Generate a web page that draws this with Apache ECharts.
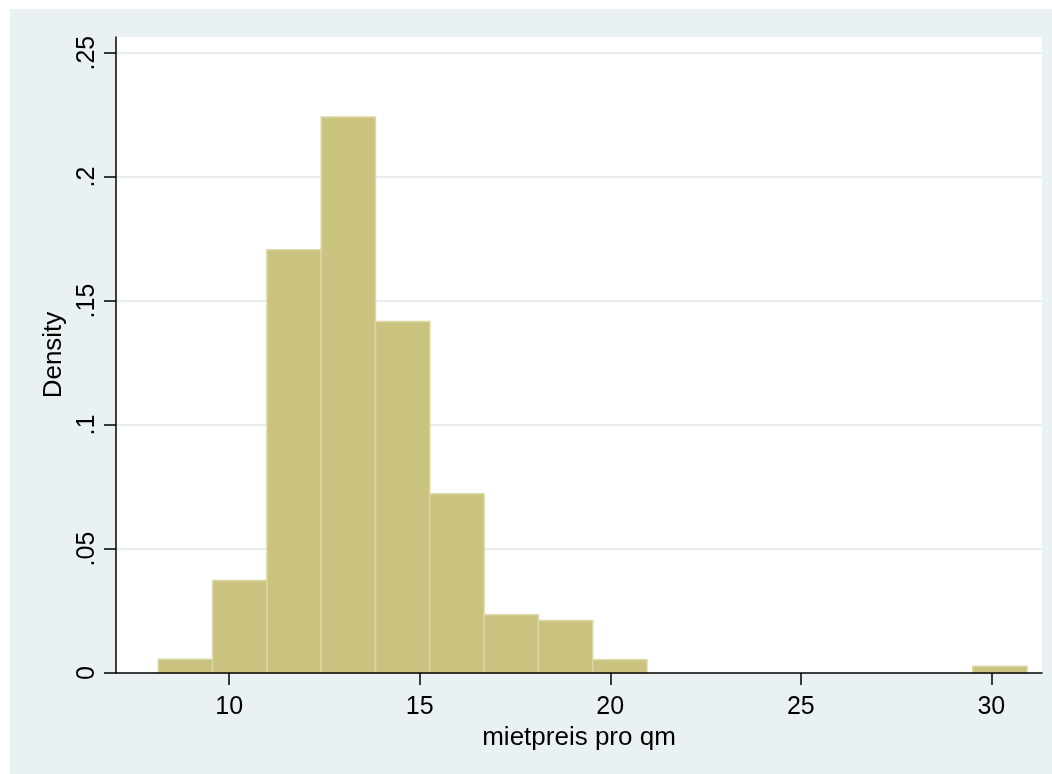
<!DOCTYPE html>
<html>
<head>
<meta charset="utf-8">
<script src="https://cdn.jsdelivr.net/npm/echarts@6/dist/echarts.min.js"></script>
<style>
  html, body { margin: 0; padding: 0; background: #fff; }
  .page { position: relative; width: 1052px; height: 774px; background: #fff; }
  .chart-box {
    position: absolute;
    left: 10px;
    top: 9px;
    width: 1042px;
    height: 765px;
    background: #e9f1f3;
  }
</style>
</head>
<body>
<div class="page">
  <div id="chart" class="chart-box"></div>
</div>
<script>
// histogram bins (mietpreis pro qm)
const binStart = 8.139
const binWidth = 1.425
const density = [0.0055, 0.0373, 0.1707, 0.2242, 0.1418, 0.0723, 0.0235, 0.0212, 0.0053,
  0, 0, 0, 0, 0, 0, 0.0027]

const xTicks = [10, 15, 20, 25, 30]
const yTicks = [0, 0.05, 0.1, 0.15, 0.2, 0.25]
const yTickLabels = ['0', '.05', '.1', '.15', '.2', '.25']
const gridLines = [0.05, 0.1, 0.15, 0.2, 0.25]

const bins = density.map((d, i) => [binStart + i * binWidth, binStart + (i + 1) * binWidth, d])

const font = "'Liberation Sans', Arial, sans-serif"
const chart = echarts.init(document.getElementById('chart'))

chart.setOption({
  backgroundColor: 'transparent',
  animation: false,
  grid: {
    left: 106,
    top: 28,
    width: 926,
    height: 636,
    show: true,
    backgroundColor: '#fff',
    borderWidth: 0
  },
  xAxis: {
    type: 'value',
    min: 7.029,
    max: 31.33,
    z: 5,
    name: 'mietpreis pro qm',
    nameLocation: 'middle',
    nameGap: 48,
    nameTextStyle: { color: '#000', fontSize: 26, fontFamily: font },
    axisLine: { onZero: false, lineStyle: { color: '#000', width: 1.5 } },
    axisTick: { show: true, length: 12, lineStyle: { color: '#000', width: 1.5 }, customValues: xTicks },
    axisLabel: { color: '#000', fontSize: 25, fontFamily: font, margin: 22, customValues: xTicks },
    splitLine: { show: false }
  },
  yAxis: {
    type: 'value',
    min: 0,
    max: 0.2565,
    z: 5,
    name: 'Density',
    nameLocation: 'middle',
    nameGap: 48,
    nameRotate: 90,
    nameTextStyle: { color: '#000', fontSize: 26, fontFamily: font },
    axisLine: { show: true, lineStyle: { color: '#000', width: 1.5 } },
    axisTick: { show: true, length: 12, lineStyle: { color: '#000', width: 1.5 }, customValues: yTicks },
    axisLabel: {
      color: '#000',
      fontSize: 25,
      fontFamily: font,
      rotate: 90,
      margin: 16,
      customValues: yTicks,
      formatter: (v) => yTickLabels[yTicks.findIndex(t => Math.abs(t - v) < 1e-9)]
    },
    splitLine: { show: false }
  },
  series: [
    {
      type: 'line',
      data: [],
      z: 1,
      silent: true,
      markLine: {
        z: 1,
        silent: true,
        symbol: 'none',
        label: { show: false },
        lineStyle: { color: '#e6eef2', width: 2, type: 'solid' },
        data: gridLines.map(v => ({ yAxis: v }))
      }
    },
    {
      type: 'custom',
      z: 2,
      data: bins,
      renderItem(params, api) {
        if (api.value(2) <= 0) {
          return null
        }
        const topLeft = api.coord([api.value(0), api.value(2)])
        const bottomRight = api.coord([api.value(1), 0])
        return {
          type: 'rect',
          shape: {
            x: topLeft[0],
            y: topLeft[1],
            width: bottomRight[0] - topLeft[0],
            height: bottomRight[1] - topLeft[1]
          },
          style: { fill: '#cac27f', stroke: '#dcd8a4', lineWidth: 1.5 }
        }
      }
    }
  ]
})
</script>
</body>
</html>
